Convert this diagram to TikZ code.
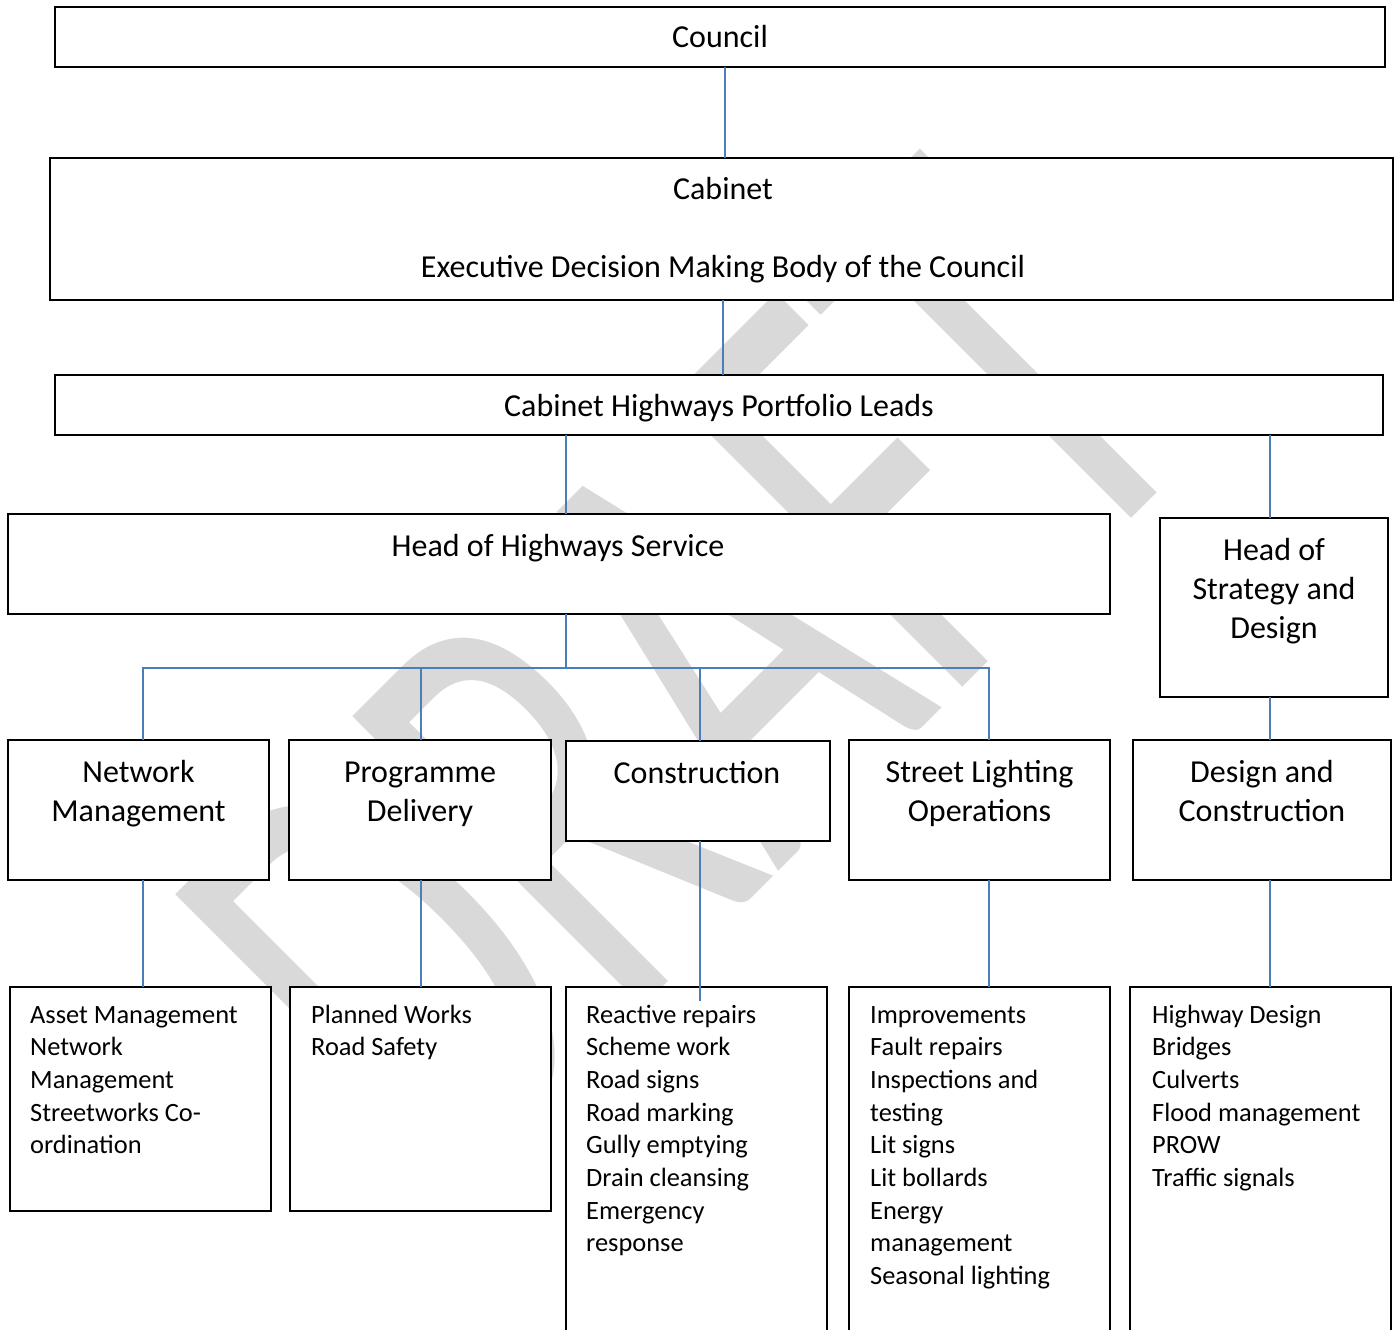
\documentclass[tikz,border=0pt]{standalone}
\usepackage{fontspec}
\setmainfont{Carlito}
\newfontfamily\wmfamily{Carlito}
\definecolor{lineblue}{RGB}{74,126,187}
\definecolor{wmgray}{RGB}{217,217,217}
\begin{document}
\begin{tikzpicture}[x=1pt,y=-1pt,
  box/.style={draw=black, line width=2pt, fill=white, rectangle, inner sep=0pt, outer sep=0pt},
  conn/.style={draw=lineblue, line width=1.6pt},
  big/.style={font=\fontsize{32}{39}\selectfont, inner sep=0pt, align=center, anchor=base},
  small/.style={font=\fontsize{26.4}{32.7}\selectfont, inner sep=0pt, align=left, anchor=base west}]
\useasboundingbox (0,0) rectangle (1395,1330);
\clip (0,0) rectangle (1395,1330);
\fill[white] (0,0) rectangle (1395,1330);
% watermark
\begin{scope}[shift={(446,1204)}, rotate=45, yscale=1.58]
  \node[anchor=south west, inner sep=0pt, outer sep=0pt, transform shape,
        font=\wmfamily\fontsize{405}{405}\selectfont, text=wmgray] (wm) at (0,0) {DRAFT};
\end{scope}
% boxes
\node[box, minimum width=1330pt, minimum height=60pt]  (coun) at (720,37) {};
\node[box, minimum width=1343pt, minimum height=142pt] (cab)  at (721.5,229) {};
\node[box, minimum width=1328pt, minimum height=60pt]  (chpl) at (719,405) {};
\node[box, minimum width=1102pt, minimum height=100pt] (hohs) at (559,564) {};
\node[box, minimum width=228pt,  minimum height=179pt] (hosd) at (1274,607.5) {};
\node[box, minimum width=261pt, minimum height=140pt] (nm)  at (138.5,810) {};
\node[box, minimum width=262pt, minimum height=140pt] (pd)  at (420,810) {};
\node[box, minimum width=264pt, minimum height=100pt] (con) at (698,791) {};
\node[box, minimum width=261pt, minimum height=140pt] (slo) at (979.5,810) {};
\node[box, minimum width=258pt, minimum height=140pt] (dc)  at (1262,810) {};
\node[box, minimum width=261pt, minimum height=224pt] (asset) at (140.5,1099) {};
\node[box, minimum width=261pt, minimum height=224pt] (plan)  at (420.5,1099) {};
\node[box, minimum width=261pt, minimum height=363pt] (rea) at (696.5,1168.5) {};
\node[box, minimum width=261pt, minimum height=363pt] (imp) at (979.5,1168.5) {};
\node[box, minimum width=261pt, minimum height=363pt] (hwy) at (1260.5,1168.5) {};
% connectors
\coordinate (bus) at (566,668);
\coordinate (reain) at ([yshift=-14pt]rea.north);
\draw[conn] (coun.south -| 725,0) -- (cab.north -| 725,0);
\draw[conn] (cab.south -| 723,0) -- (chpl.north -| 723,0);
\draw[conn] (chpl.south -| 566,0) -- (hohs.north -| 566,0);
\draw[conn] (chpl.south -| 1270,0) -- (hosd.north -| 1270,0);
\draw[conn] (hohs.south -| bus) -- (bus);
\draw[conn] (nm.north -| 143,0) |- (bus) -| (slo.north -| 989,0);
\draw[conn] (pd.north -| 421,0) -- (bus -| 421,0);
\draw[conn] (con.north -| 700,0) -- (bus -| 700,0);
\draw[conn] (hosd.south -| 1270,0) -- (dc.north -| 1270,0);
\draw[conn] (nm.south -| 143,0) -- (asset.north -| 143,0);
\draw[conn] (pd.south -| 421,0) -- (plan.north -| 421,0);
\draw[conn] (con.south -| 700,0) -- (reain -| 700,0);
\draw[conn] (slo.south -| 989,0) -- (imp.north -| 989,0);
\draw[conn] (dc.south -| 1270,0) -- (hwy.north -| 1270,0);
% texts (anchor = baseline of the last line)
\node[big] (tcoun) at (720,48) {Council};
\node[big] (tcab) at (723,277) {Cabinet\\[39pt]Executive Decision Making Body of the Council};
\node[big] (tchpl) at (719,416) {Cabinet Highways Portfolio Leads};
\node[big] (thohs) at (558,556) {Head of Highways Service};
\node[big] (thosd) at (1274,638) {Head of\\Strategy and\\Design};
\node[big] (tnm)  at (138.5,821) {Network\\Management};
\node[big] (tpd)  at (420,821) {Programme\\Delivery};
\node[big] (tcon) at (697,783) {Construction};
\node[big] (tslo) at (979.5,821) {Street Lighting\\Operations};
\node[big] (tdc)  at (1262,821) {Design and\\Construction};
\node[small] (tasset) at (30,1153.8) {Asset Management\\Network\\Management\\Streetworks Co-\\ordination};
\node[small] (tplan) at (311,1055.7) {Planned Works\\Road Safety};
\node[small] (trea) at (586,1251.9) {Reactive repairs\\Scheme work\\Road signs\\Road marking\\Gully emptying\\Drain cleansing\\Emergency\\response};
\node[small] (timp) at (870,1284.6) {Improvements\\Fault repairs\\Inspections and\\testing\\Lit signs\\Lit bollards\\Energy\\management\\Seasonal lighting};
\node[small] (thwy) at (1152,1186.5) {Highway Design\\Bridges\\Culverts\\Flood management\\PROW\\Traffic signals};
\end{tikzpicture}
\end{document}
